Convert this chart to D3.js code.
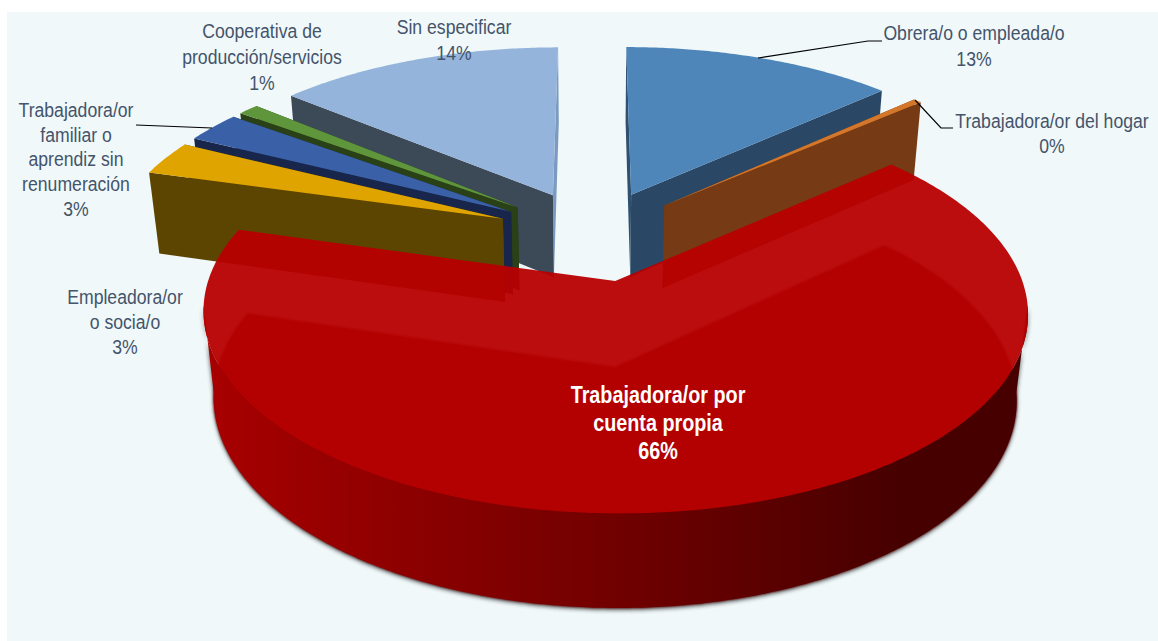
<!DOCTYPE html>
<html>
<head>
<meta charset="utf-8">
<script src="https://cdn.jsdelivr.net/npm/d3@7/dist/d3.min.js"></script>
<style>
  html, body { margin: 0; padding: 0; background: #fff; }
  svg { display: block; }
  text { font-family: "Liberation Sans", sans-serif; }
</style>
</head>
<body>
<div id="chart"></div>
<script>
'use strict';

var categories = ['Obrera/o o empleada/o', 'Trabajadora/or del hogar', 'Trabajadora/or por cuenta propia',
    'Empleadora/or o socia/o', 'Trabajadora/or familiar o aprendiz sin renumeración',
    'Cooperativa de producción/servicios', 'Sin especificar'];
var values = [13.2, 0.4, 65.8, 3.0, 2.7, 1.0, 13.9];

var topColors  = ['#4f86ba', '#d5772a', '#b70000', '#e0a400', '#3a61a8', '#5f963b', '#95b4dc'];
var sideColors = ['#30506f', '#763a14', '#640000', '#5c4500', '#17264a', '#2a4016', '#3c4a58'];
var endColors  = ['#2a4866', '#763a14', '#640000', '#5c4500', '#17264a', '#2a4016', '#7a9abf'];

// texto de cada etiqueta, linea por linea (sin el porcentaje)
var labelLines = [['Obrera/o o empleada/o'], ['Trabajadora/or del hogar'], ['Trabajadora/or por', 'cuenta propia'],
    ['Empleadora/or', 'o socia/o'], ['Trabajadora/or', 'familiar o', 'aprendiz sin', 'renumeración'],
    ['Cooperativa de', 'producción/servicios'], ['Sin especificar']];
var labelX = [974, 1052, 658, 125, 76, 262, 454];
var labelY = [40, 128, 403, 304, 117, 38, 34];
var labelStep = [26, 25, 28, 25, 24.7, 26, 26];

var leaders = [
    [[758, 58], [868, 41], [882, 41]],
    [[915, 100], [941, 128], [953, 128]],
    [[136, 125], [212, 128]]
];

var width = 1158, height = 641;

// proyeccion del pastel en perspectiva
var cam = {cx: 593, cy: 235, rx: 392, ry: 181.5, persp: 0.152, sink: 0.025, depth: 86};
var explode = 0.25;

function project(u, v, z) {
    var w = 1 + cam.persp * v + z * cam.sink;
    return [cam.cx + cam.rx * u / w, cam.cy + (-cam.ry * v + z * cam.depth) / w];
}

var svg = d3.select('#chart').append('svg').attr('width', width).attr('height', height);
var defs = svg.append('defs');

var wallScale = d3.scaleLinear().domain([205, 620, 900, 1030]).range(['#a80000', '#700000', '#470000', '#470000']);
var grad = defs.append('linearGradient').attr('id', 'wall')
    .attr('gradientUnits', 'userSpaceOnUse')
    .attr('x1', 205).attr('x2', 1030).attr('y1', 0).attr('y2', 0);
wallScale.domain().forEach(function(x) {
    grad.append('stop').attr('offset', (x - 205) / 825).attr('stop-color', wallScale(x));
});
defs.append('filter').attr('id', 'blur')
    .attr('x', '-5%').attr('y', '-5%').attr('width', '110%').attr('height', '110%')
    .append('feGaussianBlur').attr('stdDeviation', 2.2);
defs.append('filter').attr('id', 'soft')
    .attr('x', '-5%').attr('y', '-5%').attr('width', '110%').attr('height', '110%')
    .append('feGaussianBlur').attr('stdDeviation', 1.2);

svg.append('rect').attr('x', 7).attr('y', 12)
    .attr('width', width - 7).attr('height', height - 12).attr('fill', '#f0f8fa');

var line = d3.line();
var arcs = d3.pie().sort(null).startAngle(0).endAngle(2 * Math.PI).value(function(d) { return d; })(values);

function sliceGeom(d) {
    var mid = (d.startAngle + d.endAngle) / 2;
    var u0 = explode * Math.sin(mid), v0 = explode * Math.cos(mid);
    var steps = Math.max(2, Math.ceil((d.endAngle - d.startAngle) / 0.01));
    var angles = d3.range(steps + 1).map(function(i) {
        return d.startAngle + (d.endAngle - d.startAngle) * i / steps;
    });
    return {
        rim: function(z, as) {
            return (as || angles).map(function(a) { return project(u0 + Math.sin(a), v0 + Math.cos(a), z); });
        },
        apex: function(z) { return project(u0, v0, z); },
        angles: angles
    };
}

function closed(pts) { return line(pts) + 'Z'; }

function drawSlice(i) {
    var d = arcs[i], g = sliceGeom(d), lay = svg.append('g').attr('class', 'slice');
    var top = [g.apex(0)].concat(g.rim(0));
    var rimTop = g.rim(0), rimBot = g.rim(1);

    if (i === 2) {
        // la rebanada grande: fondo, pared frontal con sombra y cara superior semitransparente
        var front = g.angles.filter(function(a) {
            return a > 97 * Math.PI / 180 && a < 263 * Math.PI / 180;
        });
        var wall = g.rim(0, front).concat(g.rim(1, front).reverse());
        lay.append('path').attr('d', closed(wall)).attr('fill', '#3a3a3a').attr('opacity', 0.85)
            .attr('transform', 'translate(0,2)').attr('filter', 'url(#blur)');
        lay.append('path').attr('d', closed([g.apex(1)].concat(rimBot))).attr('fill', sideColors[i])
            .attr('filter', 'url(#soft)');
        lay.append('path').attr('d', closed(wall)).attr('fill', 'url(#wall)');
        lay.append('path').attr('d', closed(top)).attr('fill', topColors[i]).attr('fill-opacity', 0.95);
        return;
    }
    var n = rimTop.length - 1;
    lay.append('path').attr('d', closed([g.apex(0), rimTop[n], rimBot[n], g.apex(1)])).attr('fill', endColors[i]);
    lay.append('path').attr('d', closed([g.apex(0), rimTop[0], rimBot[0], g.apex(1)])).attr('fill', sideColors[i]);
    lay.append('path').attr('d', closed(top)).attr('fill', topColors[i]);
}

// de atras hacia adelante
[6, 5, 4, 3, 0, 1, 2].forEach(drawSlice);

svg.selectAll('path.leader').data(leaders).enter().append('path')
    .attr('class', 'leader').attr('d', line)
    .attr('fill', 'none').attr('stroke', '#000').attr('stroke-width', 1.2);

// no hay Arial Narrow instalada: se comprime la fuente en horizontal
categories.forEach(function(c, i) {
    var rows = labelLines[i].concat([Math.round(values[i]) + '%']);
    var t = svg.append('text').attr('text-anchor', 'middle')
        .attr('transform', 'translate(' + labelX[i] + ',0) scale(' + (i === 2 ? 0.86 : 0.84) + ',1)')
        .attr('font-size', i === 2 ? 23 : 21)
        .attr('font-weight', i === 2 ? 'bold' : 'normal')
        .attr('fill', i === 2 ? '#fff' : '#44546a');
    rows.forEach(function(r, k) {
        t.append('tspan').attr('x', 0).attr('y', labelY[i] + k * labelStep[i]).text(r);
    });
});
</script>
</body>
</html>
